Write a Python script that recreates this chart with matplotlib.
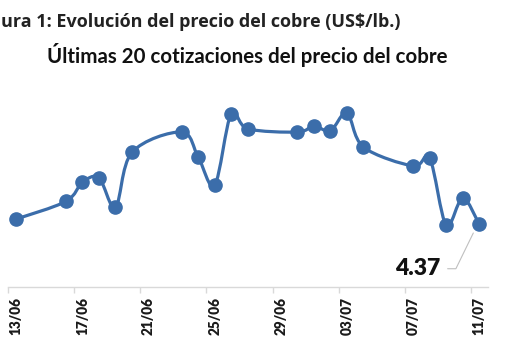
import numpy as np
import pandas as pd
import matplotlib
matplotlib.use("Agg")
import matplotlib.pyplot as plt
import matplotlib.dates as mdates
from matplotlib.path import Path
from matplotlib.patches import PathPatch

# últimas cotizaciones del cobre (US$/lb.)
fechas = ["2025-06-13", "2025-06-16", "2025-06-17", "2025-06-18", "2025-06-19",
          "2025-06-20", "2025-06-23", "2025-06-24", "2025-06-25", "2025-06-26",
          "2025-06-27", "2025-06-30", "2025-07-01", "2025-07-02", "2025-07-03",
          "2025-07-04", "2025-07-07", "2025-07-08", "2025-07-09", "2025-07-10",
          "2025-07-11"]
precios = [4.378, 4.405, 4.434, 4.441, 4.396, 4.480, 4.511, 4.473, 4.430, 4.539,
           4.516, 4.511, 4.520, 4.513, 4.540, 4.488, 4.459, 4.471, 4.369, 4.410,
           4.370]
ticks = ["2025-06-13", "2025-06-17", "2025-06-21", "2025-06-25", "2025-06-29",
         "2025-07-03", "2025-07-07", "2025-07-11"]

azul = "#3b6daa"
x = mdates.date2num(pd.to_datetime(fechas))
y = np.array(precios)
xt = mdates.date2num(pd.to_datetime(ticks))

fig = plt.figure(figsize=(5.10, 3.61), dpi=100)
ax = fig.add_axes([8/510, 1 - 287.3/361, 479.5/510, 187.3/361])

# linea suavizada (bezier tipo excel)
pts = np.column_stack([x, y])
verts = [pts[0]]
codes = [Path.MOVETO]
for i in range(len(pts) - 1):
    p0 = pts[max(i - 1, 0)]
    p1 = pts[i]
    p2 = pts[i + 1]
    p3 = pts[min(i + 2, len(pts) - 1)]
    verts += [p1 + (p2 - p0) / 6, p2 - (p3 - p1) / 6, p2]
    codes += [Path.CURVE4] * 3
ax.add_patch(PathPatch(Path(verts, codes), fill=False, edgecolor=azul, lw=2.3,
                       capstyle="round", joinstyle="round", zorder=2))
ax.plot(x, y, "o", color=azul, ms=9.5, zorder=3)

ax.set_xlim(x[0] - 0.5, x[-1] + 0.5)
ax.set_ylim(4.2736, 4.560)
ax.set_yticks([])
for s in ["top", "left", "right"]:
    ax.spines[s].set_visible(False)
ax.spines["bottom"].set_color("#d9d9d9")
ax.spines["bottom"].set_linewidth(1)

ax.set_xticks(xt)
ax.set_xticklabels([pd.to_datetime(t).strftime("%d/%m") for t in ticks],
                   rotation=90, fontfamily="Lato", fontweight="heavy",
                   fontsize=9.8, color="#1a1a1a")
ax.tick_params(axis="x", which="major", length=0, pad=7)
ax.set_xticks(xt - 0.5, minor=True)
ax.tick_params(axis="x", which="minor", length=4, color="#d9d9d9", width=1)

# etiqueta del ultimo valor
ax.annotate("%.2f" % precios[-1], xy=(x[-1] - 0.1, y[-1]),
            xytext=(x[-1] - 3.7, y[-1] - 0.068),
            ha="center", va="center", fontsize=16.5, fontweight="heavy",
            fontfamily="Lato", color="#111111",
            arrowprops=dict(arrowstyle="-", color="#bfbfbf", lw=0.8,
                            shrinkA=3, shrinkB=7, relpos=(1, 0.5),
                            connectionstyle="angle,angleA=0,angleB=64,rad=0"))

fig.text(1/510, 1 - 22/361, "ura 1: Evolución del precio del cobre (US$/lb.)",
         ha="left", va="center", fontsize=13, fontweight="bold",
         fontfamily="Open Sans", color="#222222")
fig.text(247.5/510, 1 - 55/361, "Últimas 20 cotizaciones del precio del cobre",
         ha="center", va="center", fontsize=14.8, fontweight="bold",
         fontfamily="Lato", color="#111111")

fig.savefig("out.png", dpi=100)
